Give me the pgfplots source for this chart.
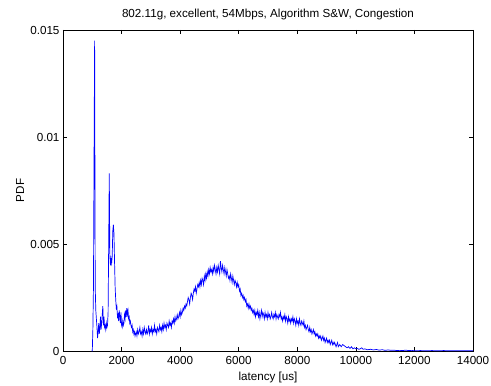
\documentclass[border=0pt]{standalone}
\usepackage{pgfplots}
\pgfplotsset{compat=1.18}
\usepackage{fontspec}
\setmainfont{Liberation Sans}
\begin{document}
\begin{tikzpicture}
\begin{axis}[
  name=ax,
  scale only axis,
  width=410bp, height=321bp,
  xmin=0, xmax=14000, ymin=0, ymax=0.015,
  xtick={0,2000,...,14000},
  ytick={0,0.005,0.01,0.015},
  yticklabels={0,0.005,0.01,0.015},
  scaled x ticks=false, scaled y ticks=false,
  /pgf/number format/set thousands separator={},
  /pgf/number format/assume math mode=true,
  tick align=inside,
  major tick length=4bp,
  axis line style={line width=0.8bp},
  every tick/.style={line width=0.6bp,black},
  font=\fontsize{11.7}{13}\selectfont,
  ticklabel style={font=\fontsize{11.7}{13}\selectfont},
  xticklabel style={yshift=-2bp},
  yticklabel style={xshift=0bp},
  title={802.11g, excellent, 54Mbps, Algorithm S\&W, Congestion},
  title style={font=\fontsize{11.7}{13}\selectfont, at={(axis description cs:0.5,1)}, anchor=center, yshift=10bp},
  xlabel={latency [us]},
  ylabel={PDF},
  xlabel style={at={(axis description cs:0.5,0)}, anchor=center, yshift=-26bp},
  ylabel style={at={(axis description cs:0,0.5)}, anchor=center, rotate=0, yshift=43bp},
]
\addplot[blue, line width=0.7bp] table {
x y
975 0
1000 0
1020 0.0010
1040 0.0030
1060 0.0090
1080 0.0145
1100 0.0030
1120 0.0019
1140 0.0015
1160 0.0011
1180 0.0006
1200 0.0009
1220 0.0013
1240 0.0008
1260 0.0011
1280 0.0016
1300 0.0010
1320 0.0013
1340 0.0017
1360 0.0021
1380 0.0012
1400 0.0016
1420 0.0011
1440 0.0012
1460 0.0010
1480 0.0013
1500 0.0011
1520 0.0012
1540 0.0018
1560 0.0050
1580 0.0083
1600 0.0045
1620 0.0040
1640 0.0043
1660 0.0041
1680 0.0044
1700 0.0056
1720 0.0059
1740 0.0055
1760 0.0042
1780 0.0030
1800 0.0024
1820 0.0020
1840 0.0021
1860 0.0016
1880 0.0017
1900 0.0014
1920 0.0019
1940 0.0016
1960 0.0013
1980 0.0018
2000 0.0012
2020 0.0011
2040 0.0014
2060 0.0012
2080 0.0013
2100 0.0017
2120 0.0015
2140 0.0019
2160 0.0016
2180 0.0020
2200 0.0017
2220 0.0019
2240 0.0015
2260 0.0016
2280 0.0013
2300 0.0014
2320 0.0012
2340 0.0011
2360 0.0012
2380 0.0009
2400 0.0010
2420 0.0008
2440 0.0009
2460 0.0007
2480 0.0008
2500 0.0009
2525 0.0007
2550 0.0010
2575 0.0008
2600 0.0009
2625 0.0011
2650 0.0008
2675 0.0009
2700 0.0007
2725 0.0010
2750 0.0008
2775 0.0011
2800 0.0009
2825 0.0008
2850 0.0010
2875 0.0008
2900 0.0009
2925 0.0012
2950 0.0008
2975 0.0010
3000 0.0009
3025 0.0011
3050 0.0008
3075 0.0010
3100 0.0009
3125 0.0012
3150 0.0009
3175 0.0010
3200 0.0008
3225 0.0011
3250 0.0010
3275 0.0009
3300 0.0012
3325 0.0010
3350 0.0011
3375 0.0009
3400 0.0012
3425 0.0010
3450 0.0013
3475 0.0011
3500 0.0012
3525 0.0010
3550 0.0013
3575 0.0012
3600 0.0011
3625 0.0014
3650 0.0012
3675 0.0013
3700 0.0011
3725 0.0014
3750 0.0013
3775 0.0015
3800 0.0013
3825 0.0016
3850 0.0014
3875 0.0015
3900 0.0017
3925 0.0015
3950 0.0016
3975 0.0018
4000 0.0016
4025 0.0019
4050 0.0017
4075 0.0018
4100 0.0020
4125 0.0019
4150 0.0021
4175 0.0020
4200 0.0022
4225 0.0021
4250 0.0023
4275 0.0025
4300 0.0024
4325 0.0022
4350 0.0025
4375 0.0027
4400 0.0026
4425 0.0024
4450 0.0027
4475 0.0029
4500 0.0028
4525 0.0030
4550 0.0027
4575 0.0029
4600 0.0031
4625 0.0030
4650 0.0032
4675 0.0030
4700 0.0033
4725 0.0031
4750 0.0034
4775 0.0033
4800 0.0031
4825 0.0035
4850 0.0033
4875 0.0036
4900 0.0034
4925 0.0037
4950 0.0035
4975 0.0038
5000 0.0036
5025 0.0039
5050 0.0037
5075 0.0038
5100 0.0036
5125 0.0039
5150 0.0037
5175 0.0040
5200 0.0038
5225 0.0036
5250 0.0039
5275 0.0037
5300 0.0040
5325 0.0038
5350 0.0036
5375 0.0042
5400 0.0039
5425 0.0037
5450 0.0040
5475 0.0038
5500 0.0036
5525 0.0039
5550 0.0037
5575 0.0035
5600 0.0038
5625 0.0036
5650 0.0034
5675 0.0035
5700 0.0033
5725 0.0036
5750 0.0034
5775 0.0032
5800 0.0035
5825 0.0033
5850 0.0031
5875 0.0033
5900 0.0032
5925 0.0030
5950 0.0032
5975 0.0030
6000 0.0031
6025 0.0028
6050 0.0029
6075 0.0026
6100 0.0027
6125 0.0025
6150 0.0026
6175 0.0024
6200 0.0025
6225 0.0023
6250 0.0024
6275 0.0021
6300 0.0022
6325 0.0020
6350 0.0022
6375 0.0020
6400 0.0021
6425 0.0019
6450 0.0020
6475 0.0018
6500 0.0019
6525 0.0017
6550 0.0019
6575 0.0016
6600 0.0018
6625 0.0017
6650 0.0019
6675 0.0016
6700 0.0018
6725 0.0015
6750 0.0017
6775 0.0019
6800 0.0016
6825 0.0018
6850 0.0017
6875 0.0015
6900 0.0018
6925 0.0016
6950 0.0017
6975 0.0015
7000 0.0018
7025 0.0016
7050 0.0017
7075 0.0015
7100 0.0016
7125 0.0018
7150 0.0016
7175 0.0015
7200 0.0017
7225 0.0016
7250 0.0018
7275 0.0015
7300 0.0017
7325 0.0016
7350 0.0015
7375 0.0017
7400 0.0016
7425 0.0018
7450 0.0015
7475 0.0016
7500 0.0014
7525 0.0016
7550 0.0015
7575 0.0017
7600 0.0014
7625 0.0016
7650 0.0015
7675 0.0013
7700 0.0016
7725 0.0014
7750 0.0015
7775 0.0013
7800 0.0015
7825 0.0014
7850 0.0016
7875 0.0013
7900 0.0015
7925 0.0014
7950 0.0012
7975 0.0015
8000 0.0013
8025 0.0014
8050 0.0012
8075 0.0015
8100 0.0013
8125 0.0012
8150 0.0014
8175 0.0013
8200 0.0012
8225 0.0014
8250 0.0011
8275 0.0012
8300 0.0010
8325 0.0011
8350 0.0012
8375 0.0010
8400 0.0009
8425 0.0011
8450 0.0009
8475 0.0010
8500 0.0008
8525 0.0009
8550 0.0010
8575 0.0008
8600 0.0009
8625 0.0007
8650 0.0008
8675 0.0007
8700 0.0008
8725 0.0006
8750 0.0007
8775 0.0006
8800 0.0007
8825 0.0005
8850 0.0006
8875 0.0007
8900 0.0005
8925 0.0006
8950 0.0004
8975 0.0005
9000 0.0006
9025 0.0004
9050 0.0005
9075 0.0004
9100 0.0005
9125 0.0003
9150 0.0004
9175 0.0005
9200 0.0003
9225 0.0004
9250 0.0003
9275 0.0004
9300 0.0003
9325 0.0002
9350 0.0003
9375 0.0004
9400 0.0002
9450 0.0003
9500 0.0002
9550 0.0003
9600 0.00025
9650 0.0002
9700 0.00015
9750 0.0002
9800 0.00012
9850 0.0002
9900 0.0001
9950 0.00015
10000 0.0001
10050 0.00012
10100 0.00008
10150 0.0001
10200 0.00015
10250 0.00008
10300 0.0001
10400 0.00006
10500 0.00008
10600 0.00005
10700 0.00007
10800 0.00004
10900 0.00006
11000 0.00003
11100 0.00005
11200 0.00003
11300 0.00004
11400 0.00002
11500 0.00003
11600 0.00002
11700 0.00004
11800 0.00002
11900 0.00003
12000 0.00001
12200 0.00002
12400 0.00001
12600 0.00002
12800 0.00001
13000 0.00002
13200 0.00001
13400 0.00001
13600 0.00001
13800 0.00001
14000 0.00001
};
\end{axis}
\pgfresetboundingbox
\path ([xshift=-63bp,yshift=-35bp]ax.south west) rectangle ([xshift=18bp,yshift=30bp]ax.north east);
\end{tikzpicture}
\end{document}
